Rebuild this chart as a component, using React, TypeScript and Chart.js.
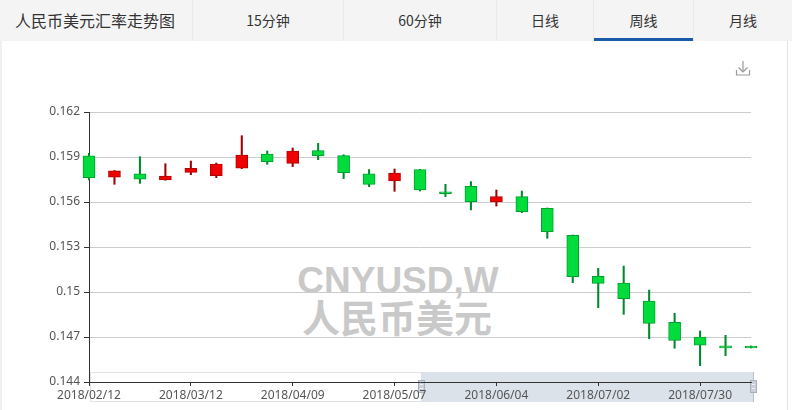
import React, { useEffect, useRef } from 'react';
import { Chart, registerables } from 'chart.js';
Chart.register(...registerables);

const dates = [
  '2018/02/12', '2018/02/19', '2018/02/26', '2018/03/05', '2018/03/12', '2018/03/19', '2018/03/26',
  '2018/04/02', '2018/04/09', '2018/04/16', '2018/04/23', '2018/04/30', '2018/05/07', '2018/05/14',
  '2018/05/21', '2018/05/28', '2018/06/04', '2018/06/11', '2018/06/18', '2018/06/25', '2018/07/02',
  '2018/07/09', '2018/07/16', '2018/07/23', '2018/07/30', '2018/08/06', '2018/08/13',
];
const opens = [
  0.15907, 0.15765, 0.15787, 0.15747, 0.15798, 0.15775, 0.15825, 0.1592, 0.15858, 0.15942, 0.15909,
  0.15787, 0.1574, 0.15816, 0.15667, 0.15705, 0.156, 0.15636, 0.15558, 0.15378, 0.15105, 0.1506,
  0.1494, 0.14798, 0.147, 0.14641, 0.1464,
];
const closes = [
  0.15762, 0.15807, 0.15753, 0.15773, 0.15825, 0.15853, 0.15913, 0.15869, 0.1594, 0.15909, 0.15796,
  0.15718, 0.15793, 0.1568, 0.15656, 0.15602, 0.15636, 0.15536, 0.15402, 0.15102, 0.15058, 0.14955,
  0.14791, 0.14678, 0.14645, 0.14628, 0.14627,
];
const highs = [
  0.15925, 0.1581, 0.15902, 0.15855, 0.15873, 0.1586, 0.16042, 0.1594, 0.1596, 0.15991, 0.15915,
  0.15816, 0.1582, 0.15818, 0.15718, 0.15736, 0.1568, 0.15673, 0.1556, 0.1538, 0.15158, 0.15173,
  0.15013, 0.14858, 0.1474, 0.14711, 0.1464,
];
const lows = [
  0.15747, 0.15718, 0.15724, 0.15745, 0.15782, 0.15762, 0.15822, 0.15851, 0.15836, 0.15882, 0.15756,
  0.15702, 0.15671, 0.15673, 0.15636, 0.15547, 0.15573, 0.15529, 0.15358, 0.15062, 0.14895, 0.14851,
  0.14689, 0.14625, 0.14509, 0.14575, 0.14627,
];
const xTickDates = ['2018/02/12', '2018/03/12', '2018/04/09', '2018/05/07', '2018/06/04', '2018/07/02', '2018/07/30'];
const yTickValues = [0.144, 0.147, 0.15, 0.153, 0.156, 0.159, 0.162];
const yTickLabels = ['0.144', '0.147', '0.15', '0.153', '0.156', '0.159', '0.162'];
const title = '人民币美元汇率走势图';
const tabs = ['15分钟', '60分钟', '日线', '周线', '月线'];
const activeTab = '周线';
const watermarkCode = 'CNYUSD,W';
const watermarkName = '人民币美元';

const tabCells = [
  { left: 192, width: 151 },
  { left: 343, width: 153 },
  { left: 496, width: 97 },
  { left: 593, width: 100 },
  { left: 693, width: 99 },
];

export default function App() {
  const ref = useRef<HTMLCanvasElement | null>(null);

  useEffect(() => {
    document.body.style.margin = '0';
    const canvas = ref.current;
    if (!canvas) return;
    const up = opens.map((o, i) => closes[i] >= o);
    const chart = new Chart(canvas, {
      type: 'bar',
      data: {
        labels: dates,
        datasets: [
          {
            label: 'wick',
            data: dates.map((_, i) => [lows[i], highs[i]]) as any,
            backgroundColor: up.map((u) => (u ? '#a00000' : '#00892b')),
            barThickness: 1.4,
            grouped: false,
            clip: false as any,
            order: 2,
          } as any,
          {
            label: 'body',
            data: dates.map((_, i) => [opens[i], closes[i]]) as any,
            backgroundColor: up.map((u) => (u ? '#ee0000' : '#00dc3c')),
            borderColor: up.map((u) => (u ? '#b00000' : '#00a030')),
            borderWidth: 1,
            borderSkipped: false,
            barThickness: 12,
            grouped: false,
            clip: false as any,
            order: 1,
          } as any,
        ],
      },
      options: {
        responsive: false,
        animation: false,
        layout: { padding: { top: 71, right: 41, bottom: 0, left: 0 } },
        plugins: { legend: { display: false }, tooltip: { enabled: false } },
        scales: {
          x: {
            type: 'category',
            offset: false,
            grid: { offset: false, drawOnChartArea: false, tickColor: '#333', tickLength: 4, color: '#333' },
            border: { color: '#333' },
            ticks: {
              autoSkip: false,
              maxRotation: 0,
              color: '#555',
              font: { family: 'Noto Sans', size: 12 },
              padding: 2,
              callback: (_v: any, i: number) => (xTickDates.includes(dates[i]) ? dates[i] : null),
            },
            afterFit: (s: any) => {
              s.height = 28;
            },
          } as any,
          y: {
            min: 0.144,
            max: 0.162,
            grid: { color: '#cccccc', tickColor: '#333', tickLength: 5 },
            border: { color: '#333' },
            ticks: {
              color: '#555',
              font: { family: 'Noto Sans', size: 12 },
              padding: 4,
              callback: (v: any) => {
                let best = 0;
                yTickValues.forEach((t, i) => {
                  if (Math.abs(t - v) < Math.abs(yTickValues[best] - v)) best = i;
                });
                return yTickLabels[best];
              },
            },
            afterBuildTicks: (s: any) => {
              s.ticks = yTickValues.map((v) => ({ value: v }));
            },
            afterFit: (s: any) => {
              s.width = 89;
            },
          } as any,
        },
      },
    });
    return () => chart.destroy();
  }, []);

  return (
    <div
      style={{
        position: 'relative',
        width: 792,
        height: 410,
        background: '#ffffff',
        overflow: 'hidden',
        fontFamily: '"Noto Sans CJK SC", "Noto Sans", sans-serif',
      }}
    >
      {/* header */}
      <div style={{ position: 'absolute', left: 0, top: 0, width: 792, height: 41, background: '#f4f4f4' }} />
      <div
        style={{
          position: 'absolute',
          left: 15,
          top: 0,
          height: 40,
          lineHeight: '40px',
          fontSize: 16,
          color: '#333',
        }}
      >
        {title}
      </div>
      {tabs.map((t, i) => (
        <div
          key={t}
          style={{
            position: 'absolute',
            left: tabCells[i].left,
            top: 0,
            width: tabCells[i].width,
            height: 41,
            lineHeight: '40px',
            fontSize: 14,
            color: '#333',
            textAlign: 'center',
            borderLeft: '1px solid #e9e9e9',
            boxSizing: 'border-box',
          }}
        >
          {t}
          {t === activeTab && (
            <div style={{ position: 'absolute', left: 0, right: 0, bottom: 0, height: 3, background: '#1a5aa8' }} />
          )}
        </div>
      ))}
      {/* panel borders */}
      <div style={{ position: 'absolute', left: 0, top: 41, width: 2, height: 369, background: '#efefef' }} />
      <div style={{ position: 'absolute', left: 787, top: 41, width: 1, height: 369, background: '#e4e4e4' }} />
      {/* download icon */}
      <svg style={{ position: 'absolute', left: 734, top: 60 }} width="18" height="17" viewBox="0 0 18 17">
        <g stroke="#9a9a9a" strokeWidth="1.2" fill="none">
          <line x1="9" y1="1" x2="9" y2="12" />
          <polyline points="4.5,7.5 9,12 13.5,7.5" />
          <polyline points="2.5,10 2.5,15 15.5,15 15.5,10" />
        </g>
      </svg>
      {/* watermark */}
      <div
        style={{
          position: 'absolute',
          left: 398,
          top: 262,
          transform: 'translateX(-50%)',
          whiteSpace: 'nowrap',
          fontFamily: '"Liberation Sans", Arial, sans-serif',
          fontWeight: 700,
          fontSize: 37,
          lineHeight: '37px',
          color: '#c9c9c9',
        }}
      >
        {watermarkCode}
      </div>
      <div
        style={{
          position: 'absolute',
          left: 397,
          top: 297,
          transform: 'translateX(-50%)',
          whiteSpace: 'nowrap',
          fontFamily: '"Noto Sans CJK SC", sans-serif',
          fontWeight: 700,
          fontSize: 38,
          lineHeight: '38px',
          color: '#c9c9c9',
        }}
      >
        {watermarkName}
      </div>
      {/* navigator */}
      <div
        style={{
          position: 'absolute',
          left: 90,
          top: 372,
          width: 664,
          height: 30,
          border: '1px solid #e2e2e2',
          boxSizing: 'border-box',
        }}
      />
      <div
        style={{
          position: 'absolute',
          left: 421,
          top: 372,
          width: 333,
          height: 30,
          background: '#dce2ea',
          borderRight: '1px solid #b8c0cc',
          boxSizing: 'border-box',
        }}
      />
      {[418, 750].map((x) => (
        <div
          key={x}
          style={{
            position: 'absolute',
            left: x,
            top: 380,
            width: 7,
            height: 13,
            background: '#c9d0da',
            border: '1px solid #a9b1bd',
            boxSizing: 'border-box',
          }}
        >
          <div style={{ position: 'absolute', left: 1, right: 1, top: 3, height: 1, background: '#eef1f5' }} />
          <div style={{ position: 'absolute', left: 1, right: 1, top: 7, height: 1, background: '#eef1f5' }} />
        </div>
      ))}
      <canvas
        ref={ref}
        width={792}
        height={369}
        style={{ position: 'absolute', left: 0, top: 41, width: 792, height: 369 }}
      />
    </div>
  );
}
